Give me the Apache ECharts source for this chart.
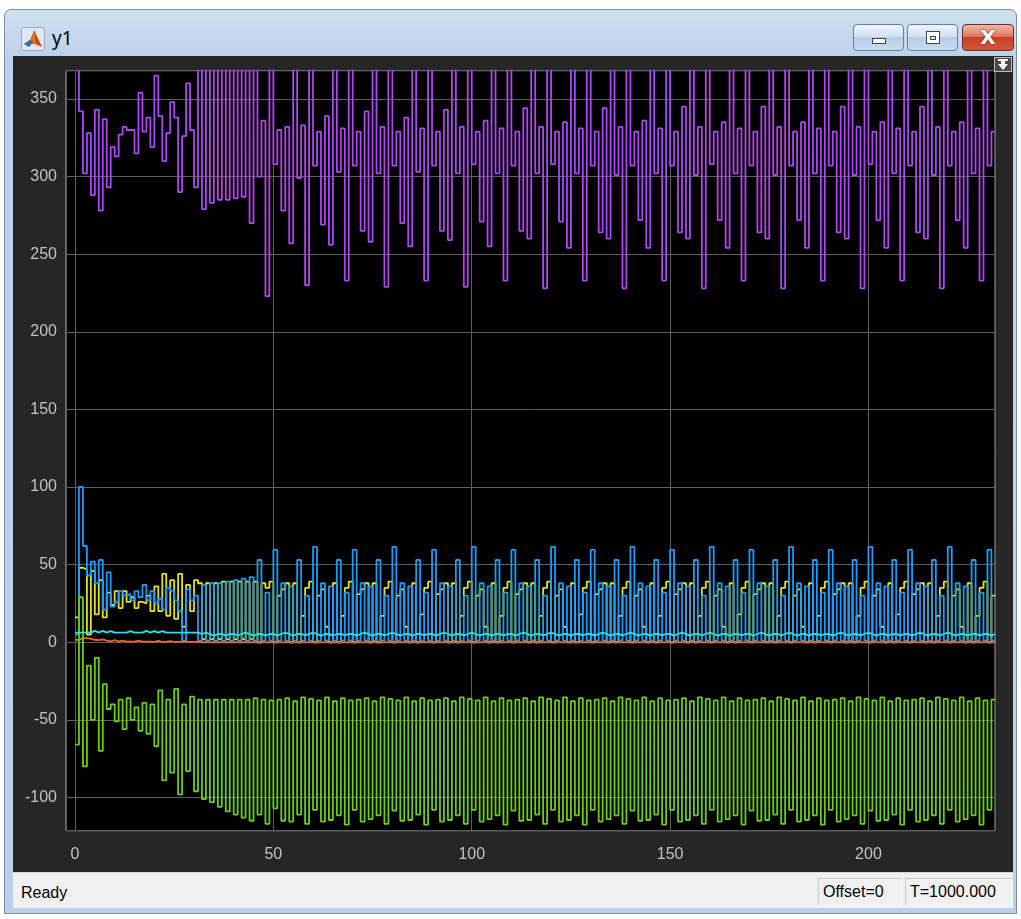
<!DOCTYPE html>
<html>
<head>
<meta charset="utf-8">
<title>y1</title>
<script src="https://cdn.jsdelivr.net/npm/echarts@6/dist/echarts.min.js"></script>
<style>
  html, body { margin: 0; padding: 0; width: 1021px; height: 919px; overflow: hidden; background: #ffffff;
    font-family: "Liberation Sans", "Noto Sans", "DejaVu Sans", sans-serif; }
  .abs { position: absolute; box-sizing: border-box; }
  #frame { left: 4px; top: 9px; width: 1013px; height: 905px; border: 1px solid #7e8fa3; border-radius: 7px 7px 0 0;
    background: linear-gradient(#cfe0f2 0px, #bcd2ea 46px, #bad1ea 100%); }
  #title { left: 52px; top: 26px; font-size: 19px; color: #000; font-family: "Noto Sans", "DejaVu Sans", sans-serif; line-height: 24px; }
  .btn { top: 24px; height: 27px; border: 1px solid #6b7f98; border-radius: 4px;
    background: linear-gradient(#eef4fb 0%, #d3e1f1 45%, #b7cde6 50%, #c9daee 100%); }
  #bmin { left: 853px; width: 51px; }
  #bmax { left: 907px; width: 51px; }
  #bclose { left: 962px; width: 52px; border-color: #7a2a1f;
    background: linear-gradient(#f0b7a8 0%, #dc7a63 45%, #c74127 50%, #d1573c 100%); }
  #scope { left: 13px; top: 56px; width: 1000px; height: 816px; background: #262626; }
  #status { left: 13px; top: 872px; width: 1000px; height: 36px; background: #f0f0f0; border-top: 1px solid #d8d8d8; }
  #ready { left: 21px; top: 883px; font-size: 16px; color: #000; line-height: 20px; }
  .sbox { top: 878px; height: 28px; border: 1px solid #c9c9c9; border-right-color: #ffffff; border-bottom-color: #ffffff;
    font-size: 16px; line-height: 26px; color: #000; padding-left: 4px; }
  #off { left: 818px; width: 84px; }
  #tt { left: 905px; width: 108px; }
  #dock { left: 994px; top: 57px; width: 18px; height: 15px; border: 1px solid #bdbdbd; background: #4a4a4a; }
</style>
</head>
<body>
<div class="abs" id="frame"></div>
<svg class="abs" style="left:21px;top:27px" width="24" height="24" viewBox="0 0 24 24">
  <rect x="0.5" y="0.5" width="23" height="23" rx="2" fill="#dfe8f2" stroke="#9aaabb"/>
  <polygon points="3,17 9,13 13,3 17,12 21,20 13,17" fill="#e0701c"/>
  <polygon points="3,17 9,13 12,15 8,20" fill="#2a6fb8"/>
  <polygon points="13,3 17,12 21,20 15,15" fill="#c0401a"/>
</svg>
<div class="abs" id="title">y1</div>
<div class="abs btn" id="bmin"><div class="abs" style="left:18px;top:13px;width:14px;height:6px;background:#fff;border:1px solid #33475f;"></div></div>
<div class="abs btn" id="bmax"><div class="abs" style="left:18px;top:6px;width:14px;height:13px;background:#fff;border:1px solid #33475f;"><div class="abs" style="left:3px;top:4px;width:6px;height:4px;border:1px solid #33475f;background:#dfe8f2"></div></div></div>
<div class="abs btn" id="bclose"><div class="abs" style="left:0;top:0;width:50px;height:25px;text-align:center;font:bold 20px/25px 'DejaVu Sans',sans-serif;color:#fff;text-shadow:0 0 2px #5a1208;">X</div></div>
<div class="abs" id="scope"></div>
<div class="abs" id="dock">
  <svg width="16" height="13" viewBox="0 0 16 13" style="display:block">
    <rect x="3" y="1" width="10" height="2" fill="#ffffff"/>
    <polygon points="8,12 3,6 6,6 6,3 10,3 10,6 13,6" fill="#ffffff"/>
  </svg>
</div>
<div class="abs" id="status"></div>
<div class="abs" id="ready">Ready</div>
<div class="abs sbox" id="off">Offset=0</div>
<div class="abs sbox" id="tt">T=1000.000</div>

<script>
// Scope trace samples, one value per time step (sample time 1), held until the next sample.
const sampleTime = 1;

const xTicks = [0, 50, 100, 150, 200];
const yTicks = [-100, -50, 0, 50, 100, 150, 200, 250, 300, 350];

// Signal 1 (yellow)
const yellowVals = [
  16, 48, 47, 5, 46, 18, 40, 16, 32, 24,
  33, 22, 33, 26, 29, 22, 26, 25, 30, 20,
  36, 20, 44, 17, 40, 15, 44, 10, 37, 20,
  40, 38, 2, 38, 2, 38, 2, 39, 2, 39,
  2, 39, 2, 39, 2, 39, 0, 38,
  35, 39, 0, 30, 34, 38, 0, 38, 0, 17,
  35, 39, 0, 30, 34, 10, 0, 38, 0, 17,
  35, 39, 0, 31, 34, 38, 0, 38, 0, 17,
  35, 39, 0, 30, 34, 10, 0, 38, 0, 18,
  35, 39, 0, 31, 34, 38, 0, 38, 0, 17,
  35, 39, 0, 30, 34, 10, 0, 38, 0, 17,
  35, 39, 0, 31, 34, 38, 0, 38, 0, 17,
  35, 39, 0, 30, 34, 10, 0, 38, 0, 18,
  35, 39, 0, 31, 34, 38, 0, 38, 0, 17,
  35, 39, 0, 30, 34, 10, 0, 38, 0, 17,
  35, 39, 0, 31, 34, 38, 0, 38, 0, 17,
  35, 39, 0, 30, 34, 10, 0, 38, 0, 18,
  35, 39, 0, 31, 34, 38, 0, 38, 0, 17,
  35, 39, 0, 30, 34, 10, 0, 38, 0, 17,
  35, 39, 0, 31, 34, 38, 0, 38, 0, 17,
  35, 39, 0, 30, 34, 10, 0, 38, 0, 18,
  35, 39, 0, 31, 34, 38, 0, 38, 0, 17,
  35, 39, 0, 30, 34, 10, 0, 38, 0, 17,
  35, 39, 0, 30
];

// Signal 2 (blue)
const blueVals = [
  5, 100, 62, 43, 52, 38, 53, 21, 45, 23,
  26, 33, 30, 31, 27, 33, 29, 37, 27, 33,
  25, 28, 21, 35, 33, 27, 20, 1, 34, 27,
  30, 1, 37, 1, 38, 1, 38, 1, 39, 1,
  40, 1, 41, 1, 42, 1, 53, 1,
  32, 1, 59.5, 1, 38, 1, 36, 1, 53, 1,
  30, 1, 61.5, 1, 38, 1, 36, 1, 53, 1,
  32, 1, 59.5, 1, 38, 1, 36, 1, 53, 1,
  30, 1, 61.5, 1, 38, 1, 36, 1, 53, 1,
  32, 1, 59.5, 1, 38, 1, 36, 1, 53, 1,
  30, 1, 61.5, 1, 38, 1, 36, 1, 53, 1,
  32, 1, 59.5, 1, 38, 1, 36, 1, 53, 1,
  30, 1, 61.5, 1, 38, 1, 36, 1, 53, 1,
  32, 1, 59.5, 1, 38, 1, 36, 1, 53, 1,
  30, 1, 61.5, 1, 38, 1, 36, 1, 53, 1,
  32, 1, 59.5, 1, 38, 1, 36, 1, 53, 1,
  30, 1, 61.5, 1, 38, 1, 36, 1, 53, 1,
  32, 1, 59.5, 1, 38, 1, 36, 1, 53, 1,
  30, 1, 61.5, 1, 38, 1, 36, 1, 53, 1,
  32, 1, 59.5, 1, 38, 1, 36, 1, 53, 1,
  30, 1, 61.5, 1, 38, 1, 36, 1, 53, 1,
  32, 1, 59.5, 1, 38, 1, 36, 1, 53, 1,
  30, 1, 61.5, 1, 38, 1, 36, 1, 53, 1,
  32, 1, 59.5, 1
];

// Signal 3 (orange)
const orangeVals = [
  1.5, 2.6, 2.6, 2.2, 1.6, 1.3, 1.8, 1.0, 0.6, 1.4,
  0.5, 1.0, 0.4, 0.4, 0.4, 1.0, 0.4, 0.4, 0.4, 0.3,
  0.9, 0.3, 0.3, 0.8, 0.3, 0.3, 0.3, 0.3, 0.2, 0.2,
  0.2, 0, 0, 0, 0, 0, 0, 0, 0, 0,
  0, 0, 0, 0, 0, 0, 0, 0,
  0, 0, 0, 0, 0, 0, 0, 0, 0, 0,
  0, 0, 0, 0, 0, 0, 0, 0, 0, 0,
  0, 0, 0, 0, 0, 0, 0, 0, 0, 0,
  0, 0, 0, 0, 0, 0, 0, 0, 0, 0,
  0, 0, 0, 0, 0, 0, 0, 0, 0, 0,
  0, 0, 0, 0, 0, 0, 0, 0, 0, 0,
  0, 0, 0, 0, 0, 0, 0, 0, 0, 0,
  0, 0, 0, 0, 0, 0, 0, 0, 0, 0,
  0, 0, 0, 0, 0, 0, 0, 0, 0, 0,
  0, 0, 0, 0, 0, 0, 0, 0, 0, 0,
  0, 0, 0, 0, 0, 0, 0, 0, 0, 0,
  0, 0, 0, 0, 0, 0, 0, 0, 0, 0,
  0, 0, 0, 0, 0, 0, 0, 0, 0, 0,
  0, 0, 0, 0, 0, 0, 0, 0, 0, 0,
  0, 0, 0, 0, 0, 0, 0, 0, 0, 0,
  0, 0, 0, 0, 0, 0, 0, 0, 0, 0,
  0, 0, 0, 0, 0, 0, 0, 0, 0, 0,
  0, 0, 0, 0, 0, 0, 0, 0, 0, 0,
  0, 0, 0, 0
];

// Signal 4 (green)
const greenVals = [
  -66, 29, -80, -15, -50, -10, -70, -27, -43, -40,
  -51, -37, -56, -36, -50, -42, -57, -39, -59, -40,
  -67, -31, -89, -37, -84, -30, -98, -40, -83, -35,
  -96, -37, -101, -37, -103, -37, -106, -37, -109, -37,
  -111, -37, -113, -37, -115, -36, -111, -37,
  -117, -37.5, -107, -37, -115, -36, -115.5, -38, -111, -35.5,
  -117, -36.5, -108, -37.5, -115.5, -35.5, -114.5, -38, -111.5, -36,
  -117.5, -37.5, -108, -37, -115.5, -36, -114, -38, -111.5, -35.5,
  -117, -36.5, -108.5, -37.5, -115, -35.5, -114.5, -38, -111, -36,
  -117.5, -37.5, -108, -37, -115.5, -36, -114.5, -38, -111.5, -35.5,
  -117, -36.5, -108, -37.5, -115.5, -35.5, -114, -38, -111.5, -36,
  -117.5, -37.5, -108.5, -37, -115, -36, -114.5, -38, -111, -35.5,
  -117, -36.5, -108, -37.5, -115.5, -35.5, -114.5, -38, -111.5, -36,
  -117.5, -37.5, -108, -37, -115.5, -36, -114, -38, -111.5, -35.5,
  -117, -36.5, -108.5, -37.5, -115, -35.5, -114.5, -38, -111, -36,
  -117.5, -37.5, -108, -37, -115.5, -36, -114.5, -38, -111.5, -35.5,
  -117, -36.5, -108, -37.5, -115.5, -35.5, -114, -38, -111.5, -36,
  -117.5, -37.5, -108.5, -37, -115, -36, -114.5, -38, -111, -35.5,
  -117, -36.5, -108, -37.5, -115.5, -35.5, -114.5, -38, -111.5, -36,
  -117.5, -37.5, -108, -37, -115.5, -36, -114, -38, -111.5, -35.5,
  -117, -36.5, -108.5, -37.5, -115, -35.5, -114.5, -38, -111, -36,
  -117.5, -37.5, -108, -37, -115.5, -36, -114.5, -38, -111.5, -35.5,
  -117, -36.5, -108, -37.5, -115.5, -35.5, -114, -38, -111.5, -36,
  -117.5, -37.5, -108, -37
];

// Signal 5 (purple); samples above the axis limit run off the top edge
const purpleVals = [
  395, 342, 302, 328, 288, 343, 278, 337, 293, 319,
  313, 327, 332, 330, 330, 315, 354, 329, 338, 319,
  365, 339, 310, 328, 348, 338, 290, 326, 360, 330,
  293, 395, 279, 395, 283, 395, 285, 395, 285, 395,
  286, 395, 287, 395, 270, 395, 300, 336,
  223, 395, 308, 330, 278, 332, 257, 395, 299, 333,
  230, 395, 307, 329, 269, 339, 256, 395, 303, 331,
  233, 395, 307, 329, 265, 342, 258, 395, 302, 332,
  229, 395, 307, 329, 270, 338, 255, 395, 303, 331,
  233, 395, 307, 329, 265, 343, 259, 395, 302, 332,
  229, 395, 308, 329, 271, 336, 255, 395, 302, 331,
  233, 395, 307, 329, 265, 344, 260, 395, 302, 332,
  228, 395, 308, 329, 271, 335, 254, 395, 302, 331,
  233, 395, 307, 329, 264, 344, 260, 395, 301, 332,
  228, 395, 307, 329, 272, 336, 254, 395, 302, 331,
  233, 395, 307, 329, 264, 345, 260, 395, 301, 332,
  228, 395, 308, 329, 272, 335, 254, 395, 302, 331,
  233, 395, 307, 329, 264, 345, 260, 395, 301, 332,
  228, 395, 307, 329, 272, 335, 254, 395, 302, 331,
  233, 395, 307, 329, 264, 345, 260, 395, 301, 332,
  228, 395, 308, 329, 272, 335, 254, 395, 302, 331,
  233, 395, 307, 329, 264, 345, 260, 395, 301, 332,
  228, 395, 307, 329, 272, 335, 254, 395, 302, 331,
  233, 395, 307, 329
];

// Signal 6 (cyan)
const cyanVals = [
  6.2, 6.2, 6.3, 6.2, 7.3, 6.2, 7.3, 6.2, 7.2, 6.2,
  6.2, 6.2, 6.2, 7.2, 6.2, 6.2, 6.2, 7.3, 6.2, 7.2,
  6.2, 7.2, 6.2, 6.2, 6.2, 6.2, 6.2, 6.2, 6.2, 6.2,
  6.2, 5.3, 6.3, 5.3, 4.3, 5.3, 5.4, 4.3, 5.3, 5.4,
  4.4, 5.3, 6.2, 5.3, 4.3, 5.3, 5.4, 4.3,
  5.3, 5.4, 4.3, 5.3, 6.2, 5.3, 4.3, 5.3, 5.4, 4.4,
  5.3, 6.2, 5.3, 4.3, 5.3, 5.4, 4.3, 5.3, 5.4, 4.4,
  5.3, 5.4, 4.3, 5.3, 6.2, 5.3, 4.3, 5.3, 5.4, 4.4,
  5.3, 6.2, 5.3, 4.3, 5.3, 5.4, 4.3, 5.3, 5.4, 4.4,
  5.3, 5.4, 4.3, 5.3, 6.2, 5.3, 4.3, 5.3, 5.4, 4.4,
  5.3, 6.2, 5.3, 4.3, 5.3, 5.4, 4.3, 5.3, 5.4, 4.4,
  5.3, 5.4, 4.3, 5.3, 6.2, 5.3, 4.3, 5.3, 5.4, 4.4,
  5.3, 6.2, 5.3, 4.3, 5.3, 5.4, 4.3, 5.3, 5.4, 4.4,
  5.3, 5.4, 4.3, 5.3, 6.2, 5.3, 4.3, 5.3, 5.4, 4.4,
  5.3, 6.2, 5.3, 4.3, 5.3, 5.4, 4.3, 5.3, 5.4, 4.4,
  5.3, 5.4, 4.3, 5.3, 6.2, 5.3, 4.3, 5.3, 5.4, 4.4,
  5.3, 6.2, 5.3, 4.3, 5.3, 5.4, 4.3, 5.3, 5.4, 4.4,
  5.3, 5.4, 4.3, 5.3, 6.2, 5.3, 4.3, 5.3, 5.4, 4.4,
  5.3, 6.2, 5.3, 4.3, 5.3, 5.4, 4.3, 5.3, 5.4, 4.4,
  5.3, 5.4, 4.3, 5.3, 6.2, 5.3, 4.3, 5.3, 5.4, 4.4,
  5.3, 6.2, 5.3, 4.3, 5.3, 5.4, 4.3, 5.3, 5.4, 4.4,
  5.3, 5.4, 4.3, 5.3, 6.2, 5.3, 4.3, 5.3, 5.4, 4.4,
  5.3, 6.2, 5.3, 4.3, 5.3, 5.4, 4.3, 5.3, 5.4, 4.4,
  5.3, 5.4, 4.3, 5.3
];

const traces = [
  { name: 'y1:1', values: yellowVals, color: '#e8e21a' },
  { name: 'y1:2', values: blueVals,   color: '#1a9cf6' },
  { name: 'y1:3', values: orangeVals, color: '#f2632a' },
  { name: 'y1:4', values: greenVals,  color: '#6acf16' },
  { name: 'y1:5', values: purpleVals, color: '#ad48f0' },
  { name: 'y1:6', values: cyanVals,   color: '#22e4ee' }
];

// Zero-order hold: each sample is held over [k, k+1); the last one is carried to the end of its step.
function holdPoints(vals) {
  const pts = vals.map((v, i) => [i * sampleTime, v]);
  pts.push([vals.length * sampleTime, vals[vals.length - 1]]);
  return pts;
}

const onTick = (list) => (v) => (list.some(t => Math.abs(t - v) < 1e-6) ? String(Math.round(v)) : '');

const chart = echarts.init(document.getElementById('scope'), null, { renderer: 'canvas' });
chart.setOption({
  animation: false,
  backgroundColor: '#262626',
  grid: {
    left: 53, right: 18, top: 14.7, bottom: 41.3,
    show: true, backgroundColor: '#000000', borderColor: '#a9a9a9', borderWidth: 1,
    containLabel: false, outerBoundsMode: 'none'
  },
  xAxis: {
    type: 'value', min: -2.27, max: 231.9,
    splitNumber: 5, minInterval: 50, maxInterval: 50,
    axisLine: { show: false }, axisTick: { show: false },
    splitLine: { show: true, lineStyle: { color: '#5d5d5d', width: 1 } },
    axisLabel: { color: '#c2c2c2', fontSize: 16, margin: 16, fontFamily: 'Liberation Sans, Arial, sans-serif',
      formatter: onTick(xTicks) }
  },
  yAxis: {
    type: 'value', min: -121.4, max: 368.2,
    splitNumber: 10, minInterval: 50, maxInterval: 50,
    axisLine: { show: false }, axisTick: { show: false },
    splitLine: { show: true, lineStyle: { color: '#5d5d5d', width: 1 } },
    axisLabel: { color: '#c2c2c2', fontSize: 16, margin: 9, fontFamily: 'Liberation Sans, Arial, sans-serif',
      formatter: onTick(yTicks) }
  },
  series: traces.map((t, i) => ({
    name: t.name,
    type: 'line',
    step: 'end',
    showSymbol: false,
    symbol: 'none',
    clip: true,
    z: 2 + i,
    lineStyle: { color: t.color, width: 1.8 },
    data: holdPoints(t.values)
  }))
});
</script>
</body>
</html>
